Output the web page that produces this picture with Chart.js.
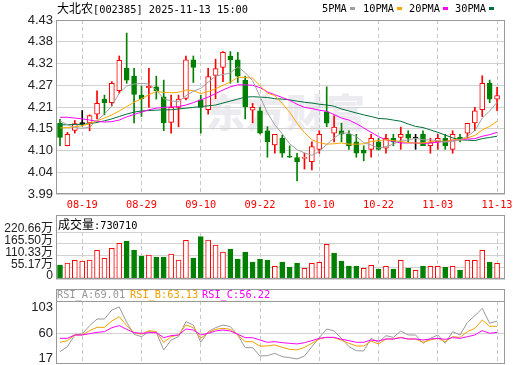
<!DOCTYPE html>
<html>
<head>
<meta charset="utf-8">
<script src="https://cdn.jsdelivr.net/npm/chart.js@4.4.1/dist/chart.umd.min.js"></script>
<style>
    body { margin: 0; background: #fff; }
    #wrap { position: relative; width: 520px; height: 365px; overflow: hidden; background: #fff; }
    canvas { position: absolute; left: 0; z-index: 1; }
    .txt { position: absolute; z-index: 2; white-space: nowrap; font-family: "DejaVu Sans Mono", "Liberation Mono", monospace; font-size: 10.3px; line-height: 12px; color: #000; }
    .cjk { font-family: "Noto Sans CJK SC", sans-serif; font-size: 12px; }
    .mk { display: inline-block; width: 5px; height: 3px; margin-left: 3px; vertical-align: 2px; }
    #watermark { position: absolute; z-index: 0; left: 206px; top: 82px; font-family: "Noto Sans CJK SC", sans-serif; font-weight: 900; font-size: 39px; color: #ebebf0; letter-spacing: 1px; }
</style>
</head>
<body>
<div id="wrap">
    <div id="watermark">东方财富</div>
    <canvas id="kline" width="520" height="215" style="top:0;"></canvas>
    <canvas id="vol" width="520" height="66" style="top:215px;"></canvas>
    <canvas id="rsi" width="520" height="76" style="top:289px;"></canvas>
    <div class="txt" id="title" style="left:57px;top:2px;"></div>
    <div id="legend"></div>
    <div class="txt" id="volTitle" style="left:58px;top:218px;"></div>
    <div id="rsiTitle"></div>
</div>
<script>
// --- data ---
const stockName = '大北农';
const stockCode = '002385';
const stampTime = '2025-11-13 15:00';

const dates = ['08-14','08-15','08-18','08-19','08-20','08-21','08-22','08-25','08-26','08-27',
    '08-28','08-29','09-01','09-02','09-03','09-04','09-05','09-08','09-09','09-10',
    '09-11','09-12','09-15','09-16','09-17','09-18','09-19','09-22','09-23','09-24',
    '09-25','09-26','09-29','09-30','10-09','10-10','10-13','10-14','10-15','10-16',
    '10-17','10-20','10-21','10-22','10-23','10-24','10-27','10-28','10-29','10-30',
    '10-31','11-03','11-04','11-05','11-06','11-07','11-10','11-11','11-12','11-13'];
const dateTickIdx = [3, 11, 19, 27, 35, 43, 51, 59];

const open = [4.169,4.112,4.151,4.168,4.170,4.192,4.230,4.221,4.251,4.308,
    4.288,4.240,4.259,4.261,4.236,4.171,4.209,4.232,4.329,4.228,
    4.203,4.290,4.310,4.339,4.329,4.278,4.202,4.200,4.150,4.114,
    4.131,4.084,4.082,4.080,4.072,4.103,4.198,4.144,4.150,4.141,
    4.122,4.101,4.103,4.122,4.106,4.131,4.133,4.141,4.131,4.141,
    4.112,4.122,4.131,4.103,4.133,4.144,4.170,4.203,4.270,4.230];
const high = [4.179,4.146,4.176,4.201,4.190,4.251,4.240,4.274,4.339,4.397,
    4.308,4.263,4.308,4.288,4.278,4.240,4.240,4.339,4.339,4.240,
    4.308,4.331,4.350,4.350,4.348,4.288,4.219,4.209,4.160,4.141,
    4.139,4.112,4.093,4.093,4.122,4.150,4.261,4.188,4.169,4.150,
    4.141,4.112,4.141,4.131,4.141,4.141,4.159,4.150,4.141,4.150,
    4.131,4.141,4.141,4.150,4.141,4.169,4.209,4.289,4.278,4.260];
const low = [4.112,4.112,4.144,4.162,4.150,4.180,4.190,4.213,4.245,4.270,
    4.170,4.186,4.209,4.230,4.150,4.144,4.160,4.228,4.272,4.144,
    4.192,4.231,4.274,4.270,4.272,4.180,4.170,4.142,4.083,4.093,
    4.083,4.082,4.023,4.053,4.051,4.093,4.160,4.122,4.122,4.103,
    4.083,4.074,4.083,4.101,4.093,4.112,4.103,4.122,4.103,4.112,
    4.093,4.103,4.103,4.093,4.122,4.131,4.150,4.186,4.221,4.201];
const close = [4.133,4.141,4.168,4.168,4.188,4.219,4.221,4.270,4.328,4.278,
    4.242,4.231,4.262,4.251,4.170,4.209,4.230,4.329,4.310,4.209,
    4.287,4.307,4.348,4.329,4.288,4.211,4.209,4.144,4.122,4.141,
    4.093,4.083,4.072,4.083,4.110,4.141,4.169,4.159,4.141,4.112,
    4.093,4.093,4.131,4.103,4.131,4.122,4.141,4.131,4.131,4.112,
    4.120,4.131,4.112,4.141,4.129,4.169,4.200,4.270,4.230,4.239];

const ma5 = [4.175,4.165,4.158,4.156,4.159,4.176,4.192,4.213,4.245,4.263,
    4.268,4.270,4.268,4.253,4.231,4.225,4.224,4.238,4.250,4.257,
    4.273,4.288,4.292,4.296,4.312,4.297,4.277,4.236,4.195,4.165,
    4.142,4.117,4.102,4.094,4.088,4.098,4.115,4.132,4.144,4.144,
    4.135,4.120,4.114,4.106,4.110,4.116,4.126,4.126,4.131,4.127,
    4.127,4.125,4.121,4.123,4.127,4.136,4.150,4.182,4.200,4.222];
const ma10 = [4.157,4.158,4.160,4.163,4.168,4.175,4.182,4.190,4.200,4.211,
    4.222,4.231,4.241,4.249,4.247,4.246,4.247,4.253,4.251,4.244,
    4.249,4.256,4.265,4.273,4.285,4.285,4.283,4.264,4.245,4.239,
    4.219,4.197,4.169,4.145,4.127,4.120,4.116,4.117,4.119,4.116,
    4.116,4.117,4.123,4.125,4.127,4.125,4.123,4.120,4.119,4.119,
    4.122,4.125,4.123,4.127,4.127,4.132,4.138,4.152,4.161,4.174];
const ma20 = [4.184,4.184,4.182,4.180,4.177,4.174,4.172,4.173,4.177,4.185,
    4.191,4.197,4.203,4.207,4.209,4.210,4.211,4.215,4.221,4.228,
    4.235,4.244,4.253,4.261,4.266,4.266,4.265,4.259,4.248,4.241,
    4.234,4.227,4.217,4.209,4.206,4.202,4.199,4.191,4.182,4.177,
    4.168,4.157,4.146,4.135,4.127,4.123,4.119,4.119,4.119,4.118,
    4.119,4.121,4.123,4.126,4.127,4.129,4.130,4.136,4.140,4.146];
const ma30 = [4.165,4.165,4.166,4.166,4.168,4.171,4.175,4.180,4.186,4.192,
    4.197,4.200,4.201,4.202,4.203,4.203,4.205,4.207,4.209,4.211,
    4.213,4.215,4.220,4.225,4.230,4.235,4.236,4.235,4.234,4.231,
    4.230,4.228,4.225,4.222,4.220,4.217,4.215,4.212,4.205,4.200,
    4.195,4.190,4.186,4.181,4.180,4.177,4.174,4.167,4.161,4.158,
    4.152,4.146,4.139,4.132,4.127,4.126,4.125,4.130,4.133,4.136];

// volume in 万
const volume = [65.7,75,87.6,84.5,89,134.6,97,144,167.5,178.4,
    136,108,112.7,103.3,103.3,117,89,181.5,98.6,198.7,
    183,159.6,126.8,140.9,93.9,126.8,79.8,93.9,89,59.5,
    79.8,56.3,75,50,73.5,78,163,122,84.5,61,
    61,50,64,47,59.5,47,87.6,51.6,40.8,61,
    59.5,59.5,56.3,59.5,42.3,87.6,87.6,134.6,79.8,73.071];

const rsiA = [29.0,37.5,57.2,58.8,72.9,84.1,84.1,99.3,104.4,78.5,
    58.3,54.3,62.8,61.6,31.9,48.7,54.3,79.6,74.0,44.8,
    62.8,69.5,74.0,71.2,57.2,35.8,35.8,21.7,22.3,26.2,
    20.6,18.9,16.7,21.7,37.5,52.6,67.3,63.9,51.5,37.5,
    30.7,30.2,51.5,44.8,56.0,53.2,63.9,57.2,57.2,43.1,
    51.5,57.2,43.1,62.8,57.2,78.5,89.7,102.1,76.8,80.8];
const rsiB = [44.8,47.6,57.2,57.2,64.5,70.1,70.1,80.8,88.1,72.9,
    61.1,58.3,64.5,62.8,44.8,54.3,57.2,74.0,69.5,51.5,
    61.1,66.7,68.4,66.7,57.2,45.9,45.9,38.4,38.6,40.3,
    36.3,33.0,31.9,36.3,43.1,50.4,53.2,52.6,48.1,43.1,
    38.6,38.6,47.0,42.0,50.4,50.4,53.2,50.4,50.4,44.8,
    48.7,51.5,45.9,54.3,53.2,62.8,68.4,82.4,71.8,71.8];
const rsiC = [51.5,51.5,57.2,57.2,59.4,61.6,62.8,69.5,72.9,66.7,
    61.1,60.0,61.1,61.1,52.6,56.0,57.2,67.3,65.6,57.2,
    60.0,63.9,65.6,63.9,58.3,52.6,52.6,48.7,44.8,45.9,
    44.2,43.1,42.0,44.2,47.6,51.5,53.2,53.2,49.8,47.6,
    44.8,44.8,48.7,47.0,50.4,50.4,52.6,50.4,50.4,48.7,
    50.4,51.5,49.8,52.6,51.5,54.3,57.2,64.5,60.0,61.6];
const rsiHeader = ['69.01', '63.13', '56.22'];

const priceTickValues = [3.99, 4.045, 4.10, 4.155, 4.21, 4.265, 4.32, 4.375, 4.43];
const priceTickLabels = ['3.99','4.04','4.10','4.15','4.21','4.27','4.32','4.38','4.43'];
const volTickValues = [0, 55.17, 110.33, 165.50, 220.66];
const volTickLabels = ['0','55.17万','110.33万','165.50万','220.66万'];
const rsiTickValues = [17, 60, 103];

// --- styles ---
const RED = '#ff0000', GREEN = '#008000', GRID = '#d2d2d2', FRAME = '#999';
const maNames = ['5PMA', '10PMA', '20PMA', '30PMA'];
const maColors = ['#a0a0a0', '#ffa500', '#ff00ff', '#00703a'];
const rsiNames = ['RSI_A', 'RSI_B', 'RSI_C'];
const rsiColors = ['#999999', '#f0a000', '#ff00ff'];
const MONO = 'DejaVu Sans Mono';

// --- header texts ---
document.getElementById('title').innerHTML =
    `<span class="cjk">${stockName}</span>[${stockCode}] ${stampTime}`;
const legendLeft = [322, 363, 409, 455];
document.getElementById('legend').innerHTML = maNames.map((n, i) =>
    `<div class="txt" style="left:${legendLeft[i]}px;top:2px;">${n}<span class="mk" style="background:${maColors[i]}"></span></div>`
).join('');
document.getElementById('volTitle').innerHTML =
    `<span class="cjk">成交量</span>:${Math.round(volume[volume.length - 1] * 10000)}`;
const rsiLeft = [57, 130, 202];
document.getElementById('rsiTitle').innerHTML = rsiNames.map((n, i) =>
    `<div class="txt" style="left:${rsiLeft[i]}px;top:288px;color:${rsiColors[i]}">${n}:${rsiHeader[i]}</div>`
).join('');

// --- helpers ---
const pts = arr => arr.map((v, i) => ({ x: i, y: v }));
const candleColor = close.map((c, i) => c > open[i] ? RED : (c < open[i] ? GREEN : '#000'));
const candleFill = close.map((c, i) => c > open[i] ? '#fff' : (c < open[i] ? GREEN : '#000'));
const volUp = close.map((c, i) => i === 0 ? c >= open[0] : c >= close[i - 1]);

const framePlugin = {
    id: 'frame',
    afterDraw(chart, args, opts) {
        const { ctx, chartArea: a } = chart;
        const top = opts.top !== undefined ? opts.top : a.top;
        ctx.save();
        ctx.strokeStyle = FRAME;
        ctx.lineWidth = 1;
        ctx.strokeRect(a.left + 0.5, top + 0.5, a.right - a.left - 1, a.bottom - top - 1);
        if (opts.sep) {
            ctx.beginPath();
            ctx.moveTo(a.left, a.top + 0.5);
            ctx.lineTo(a.right, a.top + 0.5);
            ctx.stroke();
        }
        ctx.restore();
    }
};

function xAxis(showLabels) {
    return {
        type: 'linear', min: -0.54, max: 60.07, offset: false,
        afterBuildTicks: s => { s.ticks = dateTickIdx.map(v => ({ value: v })); },
        ticks: {
            display: showLabels, autoSkip: false, maxRotation: 0, padding: 5,
            color: RED, font: { family: MONO, size: 10.3 },
            callback: v => dates[v]
        },
        grid: { color: '#c8c8c8', drawTicks: false, offset: false },
        border: { display: false, dash: [4, 3] },
        afterFit: s => { s.height = showLabels ? 21 : 0; s.paddingLeft = 0; s.paddingRight = 0; }
    };
}

function yAxis(min, max, values, labels, fontSize, extra) {
    return Object.assign({
        min: min, max: max,
        afterBuildTicks: s => { s.ticks = values.map(v => ({ value: v })); },
        ticks: {
            color: '#222', padding: 3, autoSkip: false,
            font: { family: 'Liberation Sans, Noto Sans CJK SC', size: fontSize },
            callback: (v, i) => labels[i]
        },
        grid: { color: GRID, drawTicks: false },
        border: { display: false },
        afterFit: s => { s.width = 56; s.paddingTop = 0; s.paddingBottom = 0; }
    }, extra || {});
}

const baseOptions = (padding, frame) => ({
    responsive: false,
    animation: false,
    layout: { padding: padding },
    plugins: { legend: { display: false }, tooltip: { enabled: false }, frame: frame || {} }
});

// --- K line ---
new Chart(document.getElementById('kline'), {
    type: 'bar',
    data: {
        datasets: [
            ...[ma5, ma10, ma20, ma30].map((arr, i) => ({
                type: 'line', label: maNames[i], data: pts(arr),
                borderColor: maColors[i], borderWidth: 1, pointRadius: 0, tension: 0, order: 0
            })),
            {
                label: 'body', data: close.map((c, i) => ({ x: i, y: [open[i], c] })),
                backgroundColor: candleFill, borderColor: candleColor, borderWidth: 1,
                borderSkipped: false, barThickness: 5, minBarLength: 1, grouped: false, order: 1
            },
            {
                label: 'wick', data: close.map((c, i) => ({ x: i, y: [low[i], high[i]] })),
                backgroundColor: candleColor, borderWidth: 0, barThickness: 1, grouped: false, order: 2
            }
        ]
    },
    options: Object.assign(baseOptions({ top: 20, right: 15, left: 0, bottom: 0 }), {
        scales: {
            x: xAxis(true),
            y: yAxis(3.99, 4.43, priceTickValues, priceTickLabels, 13)
        }
    }),
    plugins: [framePlugin]
});

// --- volume ---
const volY = yAxis(0, 220.66, volTickValues, volTickLabels, 12);
volY.ticks.labelOffset = -3;
new Chart(document.getElementById('vol'), {
    type: 'bar',
    data: {
        datasets: [{
            label: 'vol', data: pts(volume),
            backgroundColor: volUp.map(u => u ? '#fff' : GREEN),
            borderColor: volUp.map(u => u ? RED : GREEN),
            borderWidth: 1, borderSkipped: false, barThickness: 5, grouped: false
        }]
    },
    options: Object.assign(baseOptions({ top: 17, right: 15, left: 0, bottom: 2 }, { top: 0 }), {
        scales: { x: xAxis(false), y: volY }
    }),
    plugins: [framePlugin]
});

// --- RSI ---
new Chart(document.getElementById('rsi'), {
    type: 'line',
    data: {
        datasets: [rsiA, rsiB, rsiC].map((arr, i) => ({
            label: rsiNames[i], data: pts(arr),
            borderColor: rsiColors[i], borderWidth: 1, pointRadius: 0, tension: 0
        })).reverse()
    },
    options: Object.assign(baseOptions({ top: 12, right: 15, left: 0, bottom: 1 }, { top: 0, sep: true }), {
        scales: {
            x: xAxis(false),
            y: yAxis(8.2, 114.5, rsiTickValues, rsiTickValues.map(String), 13, {
                grid: { color: c => c.tick && c.tick.value === 60 ? GRID : 'rgba(0,0,0,0)', drawTicks: false }
            })
        }
    }),
    plugins: [framePlugin]
});
</script>
</body>
</html>
